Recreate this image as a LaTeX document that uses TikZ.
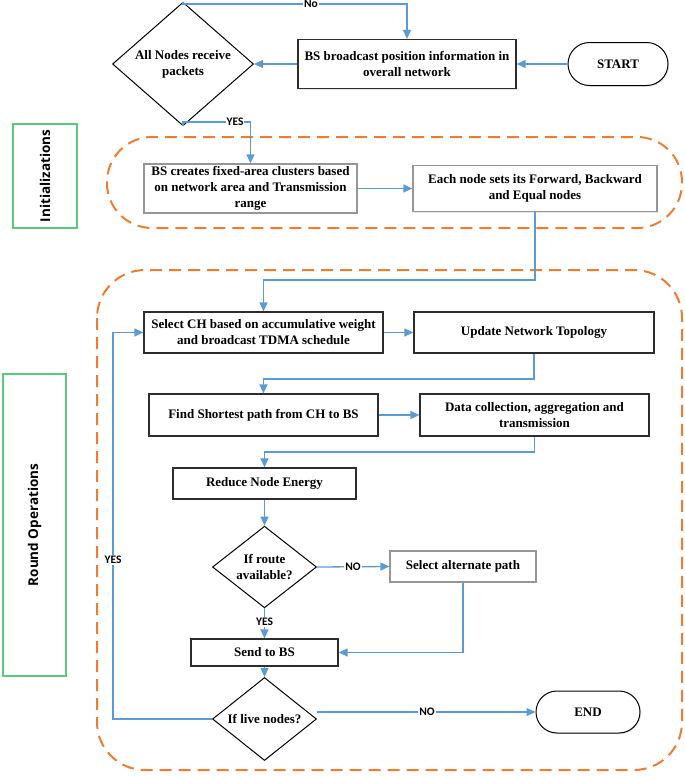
\documentclass[tikz,border=0pt]{standalone}
\usepackage{fontspec}
\setmainfont{Liberation Serif}
\newfontfamily\lblfont{Carlito}
\newfontfamily\sidefont{Open Sans}
\usetikzlibrary{shapes.geometric,shapes.misc,arrows.meta,shadows}
\definecolor{flowblue}{RGB}{91,155,213}
\definecolor{regorange}{RGB}{237,125,49}
\definecolor{sidegreen}{RGB}{90,200,125}
\definecolor{boxdark}{RGB}{45,45,45}
\definecolor{boxgray}{RGB}{150,150,150}
\newcommand{\bxfont}{\fontsize{13}{16}\selectfont\bfseries}
\newcommand{\lbfont}{\lblfont\fontsize{11.5}{13}\selectfont\bfseries}
\newcommand{\sdfont}{\sidefont\fontsize{13.5}{16}\selectfont\bfseries}
\begin{document}
\begin{tikzpicture}[x=1pt,y=-1pt,
  shade/.style={drop shadow={shadow xshift=1.2pt,shadow yshift=-1.2pt,opacity=0.18,fill=gray}},
  box/.style={draw=boxdark,line width=1.2pt,fill=white,align=center,inner sep=0pt,font=\bxfont,shade},
  lightbox/.style={box,draw=boxgray},
  decision/.style={diamond,draw=black,line width=1pt,fill=white,align=center,inner sep=0pt,font=\bxfont},
  terminal/.style={rounded rectangle,draw=black,line width=1pt,fill=white,inner sep=0pt,font=\bxfont,shade},
  flow/.style={draw=flowblue,line width=1.3pt,-{Triangle[length=9pt,width=8pt]}},
  lbl/.style={fill=white,inner sep=1pt,font=\lbfont},
  region/.style={draw=regorange,line width=2pt,dash pattern=on 12pt off 7pt},
  sidebox/.style={draw=sidegreen,line width=1.2pt,font=\sdfont,inner sep=0pt,rotate=90}
]
\useasboundingbox (0,0) rectangle (685,777);

% regions
\draw[region,rounded corners=45pt] (107,137) rectangle (682,228);
\draw[region,rounded corners=48pt] (97,270) rectangle (682,770);

% side labels
\node[sidebox,minimum width=104,minimum height=64] (initlbl) at (45,176) {Initializations};
\node[sidebox,minimum width=302,minimum height=63] (roundlbl) at (34.5,525) {Round Operations};

% nodes
\node[terminal,minimum width=100,minimum height=43] (start) at (618,64) {START};
\node[box,minimum width=218,minimum height=49] (bsb) at (407,64) {BS broadcast position information in\\overall network};
\node[decision,minimum width=141,minimum height=105] (dia1) at (183,64) {All Nodes receive\\packets};
\node[lightbox,minimum width=213,minimum height=49] (bscreate) at (250.5,188.5) {BS creates fixed-area clusters based\\on network area and Transmission\\range};
\node[lightbox,minimum width=244,minimum height=46] (each) at (535,188.5) {Each node sets its Forward, Backward\\and Equal nodes};
\node[box,minimum width=239,minimum height=41] (selch) at (263.5,332.5) {Select CH based on accumulative weight\\and broadcast TDMA schedule};
\node[box,minimum width=240,minimum height=41] (update) at (534,332.5) {Update Network Topology};
\node[box,minimum width=229,minimum height=42] (find) at (263.5,415) {Find Shortest path from CH to BS};
\node[box,minimum width=229,minimum height=42] (datac) at (534.5,415) {Data collection, aggregation and\\transmission};
\node[box,minimum width=183,minimum height=31] (reduce) at (264.5,483.5) {Reduce Node Energy};
\node[decision,minimum width=104,minimum height=73] (dia2) at (264.5,567) {If route\\available?};
\node[lightbox,minimum width=146,minimum height=31] (alt) at (463,566.5) {Select alternate path};
\node[box,minimum width=147,minimum height=27] (send) at (264.5,652.5) {Send to BS};
\node[decision,minimum width=104,minimum height=76] (dia3) at (264.5,719) {If live nodes?};
\node[terminal,minimum width=104,minimum height=42] (end) at (588,712) {END};

\coordinate (nolevel) at (0,4);
\coordinate (yeslevel) at (0,122);
\coordinate (l1) at (0,280);
\coordinate (l2) at (0,379);
\coordinate (l3) at (0,452);
\coordinate (loopx) at (113,0);

% connectors
\draw[flow] (start.west) -- (bsb.east);
\draw[flow] (bsb.west) -- (dia1.east);
\draw[flow] (dia1.north) -- (dia1.north |- nolevel) -| (bsb.north);
\node[lbl] (nolbl) at (311,4) {No};
\draw[flow] (dia1.south) -- (dia1.south |- yeslevel) -| (bscreate.north);
\node[lbl] (yeslbl) at (235,122) {YES};
\draw[flow] (bscreate.east |- each.west) -- (each.west);
\draw[flow] (each.south) -- (each.south |- l1) -| (selch.north);
\draw[flow] (selch.east) -- (update.west);
\draw[flow] (update.south) -- (update.south |- l2) -| (find.north);
\draw[flow] (find.east) -- (datac.west);
\draw[flow] (datac.south) -- (datac.south |- l3) -| (reduce.north);
\draw[flow] (reduce.south) -- (dia2.north);
\draw[flow] (dia2.east) -- (alt.west);
\node[lbl] (nolbl2) at (353,567) {NO};
\draw[flow] (dia2.south) -- (send.north);
\node[lbl] (yeslbl2) at (264.5,622) {YES};
\draw[flow] (alt.south) |- (send.east);
\draw[flow] (send.south) -- (dia3.north);
\draw[flow] (dia3.east |- end.west) -- (end.west);
\node[lbl] (nolbl3) at (427,712) {NO};
\draw[flow] (dia3.west) -- (dia3.west -| loopx) |- (selch.west);
\node[lbl] (yeslbl3) at (113,560) {YES};
\end{tikzpicture}
\end{document}
